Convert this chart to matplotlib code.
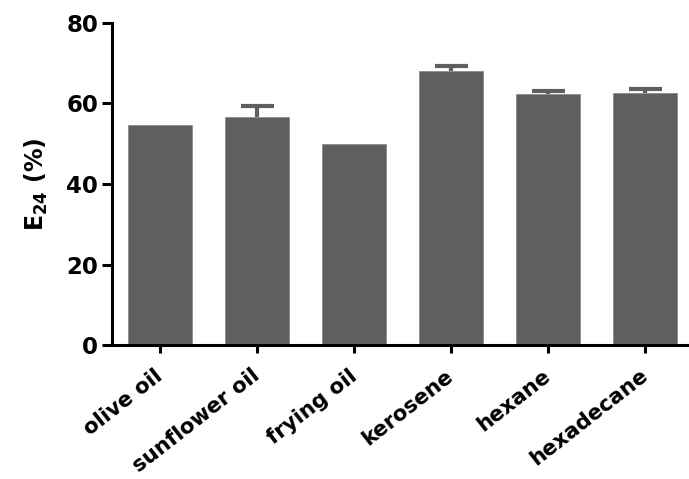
import numpy as np
import matplotlib.pyplot as plt

plt.rcParams['font.family'] = ['DejaVu Sans']
plt.rcParams['font.weight'] = 'bold'

# data
oils = ['olive oil', 'sunflower oil', 'frying oil', 'kerosene', 'hexane', 'hexadecane']
e24 = [54.7, 56.7, 49.9, 68.1, 62.3, 62.7]
err = [0.0, 2.8, 0.0, 1.1, 0.7, 0.9]

fig = plt.figure(figsize=(6.89, 4.79), dpi=100)
ax = fig.add_axes([0.1626, 0.2797, 0.8374, 0.6723])

x = np.arange(len(oils))
vals = np.array(e24)
errs = np.array(err)
bar_col = '#5f5f5f'
ax.bar(x, vals, width=0.66, color=bar_col, edgecolor='#8c8c8c', linewidth=0.6, zorder=2)

# upper error bars only (none drawn where sd is zero)
m = errs > 0
ax.vlines(x[m], vals[m], vals[m] + errs[m], color=bar_col, linewidth=3, zorder=1)
ax.hlines(vals[m] + errs[m], x[m] - 0.17, x[m] + 0.17, color=bar_col, linewidth=3,
          zorder=1)

ax.set_ylim(0, 80)
ax.set_xlim(-0.495, 5.45)
ax.set_yticks([0, 20, 40, 60, 80])
ax.set_xticks(x)
ax.set_xticklabels(oils, rotation=38, ha='right', va='center', rotation_mode='anchor',
                   fontsize=15.3, fontweight='bold')
for lab in ax.get_yticklabels():
    lab.set_fontsize(16.5)
    lab.set_fontweight('bold')

ax.spines['top'].set_visible(False)
ax.spines['right'].set_visible(False)
ax.spines['left'].set_linewidth(2.2)
ax.spines['bottom'].set_linewidth(2.2)
ax.tick_params(axis='y', length=7, width=2.2, pad=3)
ax.tick_params(axis='x', length=6, width=2.2, pad=14.5)

ax.set_ylabel('E$_{\\mathbf{24}}$ (%)', fontsize=17, fontweight='bold', labelpad=12)

plt.savefig('out.png', dpi=100)
